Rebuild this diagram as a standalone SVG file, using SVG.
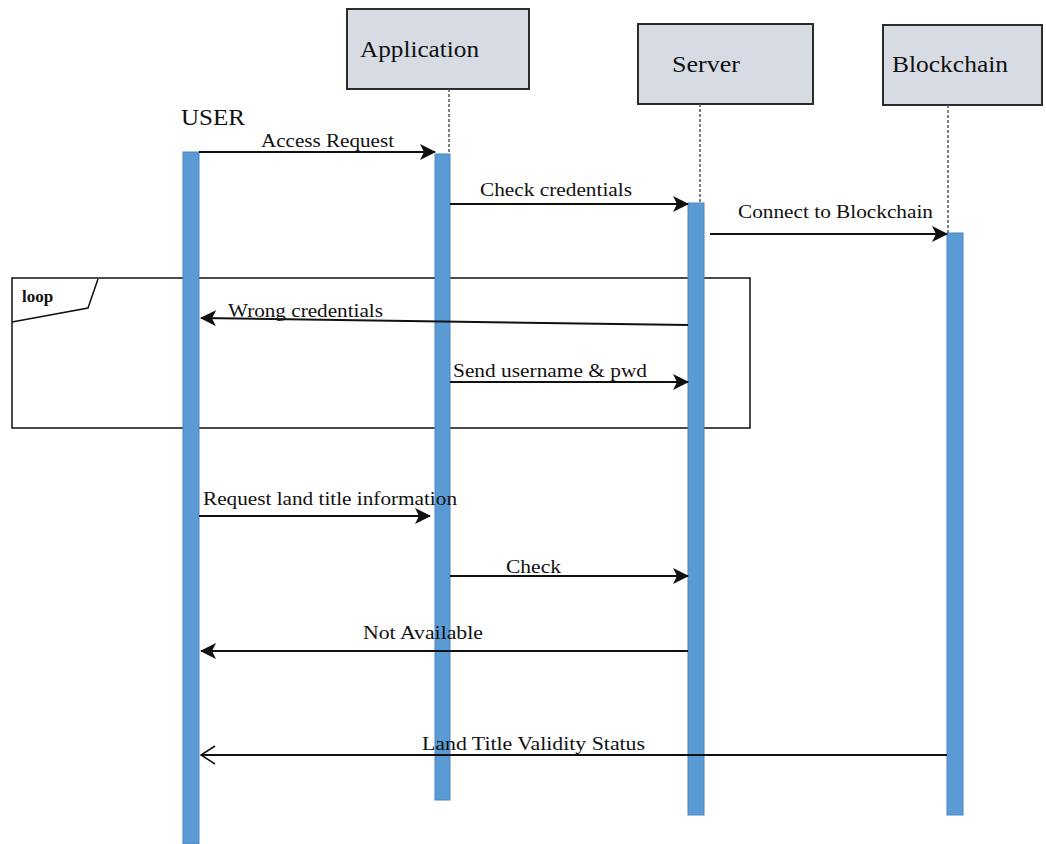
<svg xmlns="http://www.w3.org/2000/svg" width="1046" height="844" viewBox="0 0 1046 844">
<style>
.box{fill:#D7DCE4;stroke:#2b2b2b;stroke-width:2}
.hdr{font-family:"Liberation Serif","Times New Roman",Times,serif;font-size:23px;fill:#111}
.lbl{font-family:"Liberation Serif","Times New Roman",Times,serif;font-size:18.5px;fill:#111}
.life{stroke:#555;stroke-width:1.5;stroke-dasharray:3,2}
.bar{fill:#5B9BD5;stroke:#4A86BE;stroke-width:1}
.msg{stroke:#111;stroke-width:2;fill:none}
.frame{fill:none;stroke:#111;stroke-width:1.5}
</style>
<defs>
<marker id="af" markerWidth="16" markerHeight="16" refX="15" refY="8" orient="auto" markerUnits="userSpaceOnUse">
<path d="M0,0 L16,8 L0,16 L4,8 z" fill="#111"/>
</marker>
<marker id="ao" markerWidth="16" markerHeight="20" refX="15" refY="10" orient="auto" markerUnits="userSpaceOnUse">
<path d="M1,1 L15,10 L1,19" fill="none" stroke="#111" stroke-width="1.5"/>
</marker>
</defs>

<g id="frame-loop">
<rect class="frame" x="12" y="278" width="738" height="150"/>
<path class="frame" d="M98,279 L88,308 L12,322"/>
<text x="22" y="302" font-family="Liberation Serif,Times New Roman,serif" font-size="17" font-weight="bold" fill="#111">loop</text>
</g>

<g id="user">
<text class="hdr" x="181" y="125" textLength="64" lengthAdjust="spacingAndGlyphs">USER</text>
<rect class="bar" x="183" y="152" width="16" height="692"/>
</g>

<g id="application">
<rect class="box" x="347" y="9" width="182" height="80"/>
<text class="hdr" x="360" y="57" textLength="119" lengthAdjust="spacingAndGlyphs">Application</text>
<line class="life" x1="449" y1="89" x2="449" y2="154"/>
<rect class="bar" x="435" y="154" width="15" height="646"/>
</g>

<g id="server">
<rect class="box" x="638" y="24" width="175" height="80"/>
<text class="hdr" x="672" y="72" textLength="68" lengthAdjust="spacingAndGlyphs">Server</text>
<line class="life" x1="700" y1="104" x2="700" y2="203"/>
<rect class="bar" x="688" y="203" width="16" height="612"/>
</g>

<g id="blockchain">
<rect class="box" x="883" y="25" width="159" height="80"/>
<text class="hdr" x="892" y="72" textLength="116" lengthAdjust="spacingAndGlyphs">Blockchain</text>
<line class="life" x1="948" y1="105" x2="948" y2="233"/>
<rect class="bar" x="947" y="233" width="16" height="582"/>
</g>

<g id="connectors">
<line class="msg" x1="199" y1="152" x2="435" y2="152" marker-end="url(#af)"/>
<text class="lbl" x="261" y="147" textLength="133" lengthAdjust="spacingAndGlyphs">Access Request</text>

<line class="msg" x1="450" y1="204" x2="688" y2="204" marker-end="url(#af)"/>
<text class="lbl" x="480" y="196" textLength="152" lengthAdjust="spacingAndGlyphs">Check credentials</text>

<line class="msg" x1="710" y1="234" x2="947" y2="234" marker-end="url(#af)"/>
<text class="lbl" x="738" y="218" textLength="195" lengthAdjust="spacingAndGlyphs">Connect to Blockchain</text>

<line class="msg" x1="688" y1="325" x2="201" y2="318" marker-end="url(#af)"/>
<text class="lbl" x="228" y="317" textLength="155" lengthAdjust="spacingAndGlyphs">Wrong credentials</text>

<line class="msg" x1="450" y1="382" x2="688" y2="382" marker-end="url(#af)"/>
<text class="lbl" x="453" y="377" textLength="194" lengthAdjust="spacingAndGlyphs">Send username &amp; pwd</text>

<line class="msg" x1="199" y1="516" x2="430" y2="516" marker-end="url(#af)"/>
<text class="lbl" x="203" y="505" textLength="254" lengthAdjust="spacingAndGlyphs">Request land title information</text>

<line class="msg" x1="450" y1="576" x2="688" y2="576" marker-end="url(#af)"/>
<text class="lbl" x="506" y="573" textLength="55" lengthAdjust="spacingAndGlyphs">Check</text>

<line class="msg" x1="688" y1="651" x2="201" y2="651" marker-end="url(#af)"/>
<text class="lbl" x="363" y="639" textLength="120" lengthAdjust="spacingAndGlyphs">Not Available</text>

<line class="msg" x1="947" y1="755" x2="201" y2="755" marker-end="url(#ao)"/>
<text class="lbl" x="422" y="750" textLength="223" lengthAdjust="spacingAndGlyphs">Land Title Validity Status</text>
</g>
</svg>
